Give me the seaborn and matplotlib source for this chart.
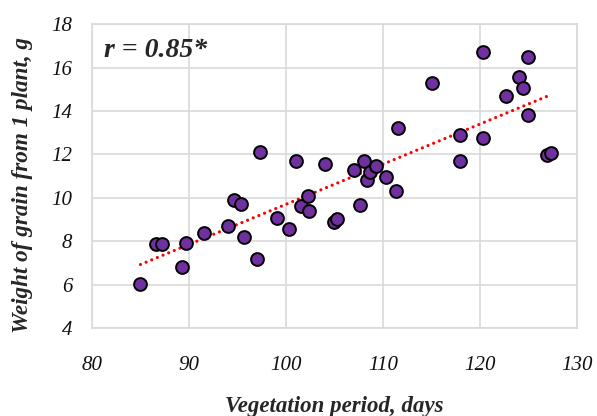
import matplotlib
matplotlib.use("Agg")
import matplotlib.pyplot as plt
import seaborn as sns
import pandas as pd

# Vegetation period (days) and grain weight per plant (g)
vegetation_days = [85.0, 86.6, 87.2, 89.3, 89.7, 91.6, 94.0, 94.6, 95.4, 95.7,
                   97.0, 97.3, 99.1, 100.3, 101.0, 101.6, 102.3, 102.4, 104.0,
                   105.0, 105.3, 107.0, 107.6, 108.0, 108.4, 108.7, 109.3, 110.3,
                   111.3, 111.6, 115.1, 117.9, 117.9, 120.3, 120.3, 122.7, 124.0,
                   124.4, 125.0, 125.0, 126.9, 127.3]
grain_weight = [6.02, 7.85, 7.85, 6.8, 7.9, 8.4, 8.7, 9.9, 9.7, 8.2,
                7.2, 12.1, 9.05, 8.55, 11.7, 9.6, 10.1, 9.4, 11.55,
                8.9, 9.0, 11.26, 9.65, 11.68, 10.8, 11.2, 11.45, 10.94,
                10.3, 13.2, 15.3, 11.68, 12.9, 12.76, 16.7, 14.7, 15.56,
                15.05, 16.5, 13.8, 11.95, 12.05]
x_ticks = [80, 90, 100, 110, 120, 130]
y_ticks = [4, 6, 8, 10, 12, 14, 16, 18]
r_label = "r = 0.85*"

df = pd.DataFrame({"days": vegetation_days, "weight": grain_weight})

sns.set_theme(style="white")
plt.rcParams["font.family"] = ["Liberation Serif", "DejaVu Serif"]

fig = plt.figure(figsize=(5.97, 4.16), dpi=100)
ax = fig.add_axes([0.154, 0.2115, 0.8125, 0.7305])

grid_col = "#D9D9D9"
ax.set_axisbelow(True)
ax.grid(True, color=grid_col, linewidth=1.2)

# linear trend, drawn as a red dotted line
sns.regplot(data=df, x="days", y="weight", ax=ax, ci=None, scatter=False,
            line_kws=dict(color="#FF0000", linestyle=(0, (0.01, 1.9)),
                          linewidth=2.3, dash_capstyle="round"))
sns.scatterplot(data=df, x="days", y="weight", ax=ax, color="#7030A0",
                edgecolor="black", linewidth=1.4, s=85, zorder=3)

ax.set_xlim(80, 130)
ax.set_ylim(4, 18)
ax.set_xticks(x_ticks)
ax.set_yticks(y_ticks)
for s in ax.spines.values():
    s.set_color(grid_col)
    s.set_linewidth(1.2)
ax.tick_params(axis="both", length=0, labelsize=15, colors="#111111")
ax.tick_params(axis="x", pad=20)
ax.tick_params(axis="y", pad=14)
for lab in ax.get_xticklabels() + ax.get_yticklabels():
    lab.set_fontstyle("italic")

ax.set_xlabel("Vegetation period, days", fontsize=16.5, fontweight="bold",
              fontstyle="italic", labelpad=15.5)
ax.set_ylabel("Weight of grain from 1 plant, g", fontsize=16.7, fontweight="bold",
              fontstyle="italic")
ax.yaxis.set_label_coords(-0.122, 0.47)

ax.text(0.025, 0.955, r_label, transform=ax.transAxes, fontsize=20,
        fontweight="bold", fontstyle="italic", va="top", ha="left")

fig.savefig("out.png", dpi=100)
